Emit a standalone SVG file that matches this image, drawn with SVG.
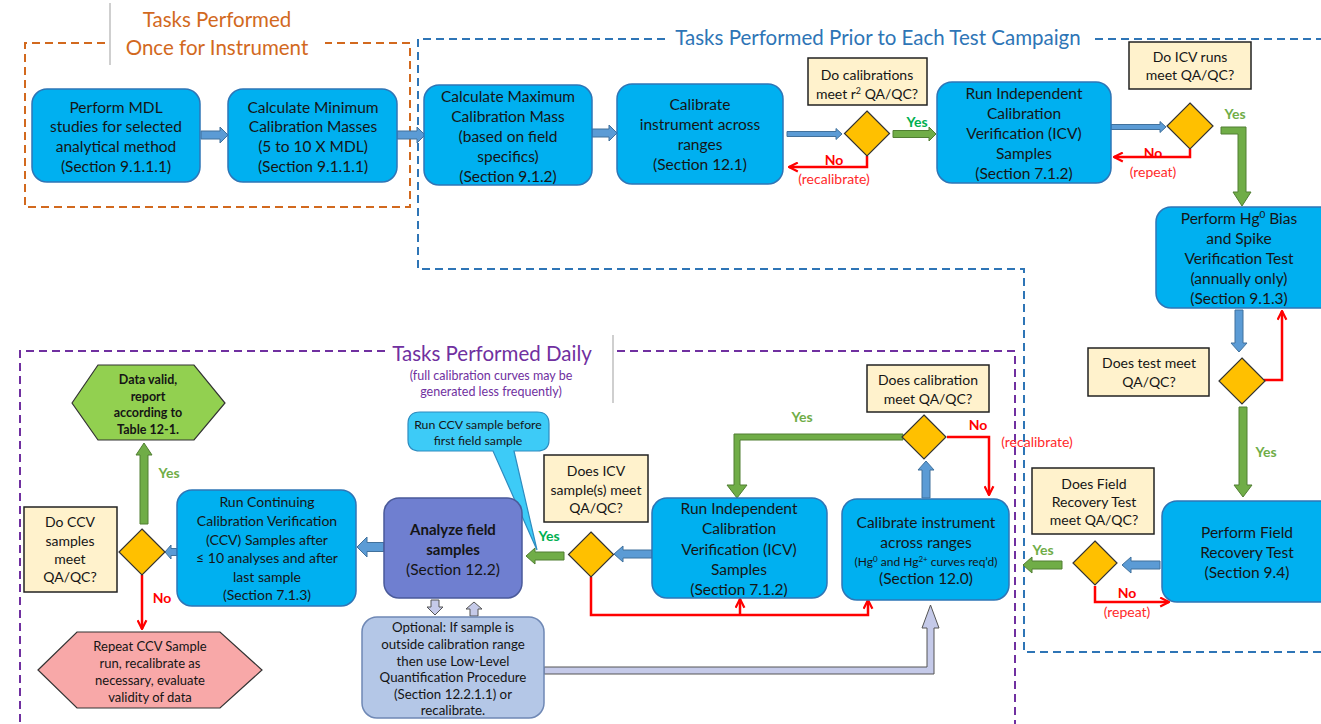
<svg xmlns="http://www.w3.org/2000/svg" width="1321" height="724" viewBox="0 0 1321 724">
<defs>
<style>
text{font-family:Lato,"Open Sans","Liberation Sans",sans-serif;text-anchor:middle;fill:#151515}
.t{font-size:15.5px}
.s{font-size:14px}
.o{font-size:13.3px}
.r{font-size:13px}
.xs{font-size:12.3px}
.title{font-size:20.5px}
.box{fill:#00B0F0;stroke:#2E75B6;stroke-width:1.5}
.lab{fill:#FFF2CC;stroke:#222;stroke-width:1.5}
.dia{fill:#FFC000;stroke:#333;stroke-width:1.2}
.ba{fill:#5B9BD5;stroke:#41719C;stroke-width:1}
.ga{fill:#70AD47;stroke:#507E32;stroke-width:1}
.la{fill:#C5CAE9;stroke:#555;stroke-width:1}
.red{fill:none;stroke:#FF0000;stroke-width:2.5}
.no{font-size:14px;font-weight:bold;fill:#FF0000}
.nr{font-size:14px;fill:#FF2A2A}
.yes{font-size:14px;font-weight:bold;fill:#70AD47}
.yes2{font-size:14px;font-weight:bold;fill:#00B050}
.dash{fill:none;stroke-width:2;stroke-dasharray:8 5}
</style>
<marker id="ra" viewBox="0 0 10 10" refX="9" refY="5" markerWidth="11" markerHeight="11" markerUnits="userSpaceOnUse" orient="auto">
<path d="M1,1 L9,5 L1,9" fill="none" stroke="#FF0000" stroke-width="2"/>
</marker>
</defs>
<rect width="1321" height="724" fill="#fff"/>

<g id="frames">
<path class="dash" stroke="#D2691E" d="M105,43 H25 V207 H410 V43 H325"/>
<path class="dash" stroke="#2E75B6" d="M665,39 H418 V269 H1024 V652 H1321"/>
<path class="dash" stroke="#2E75B6" d="M1095,39 H1321"/>
<path class="dash" stroke="#7030A0" d="M385,351 H20 V724"/>
<path class="dash" stroke="#7030A0" d="M617,351 H1015 V724"/>
<path d="M110,3 V65 M613,335 V403" stroke="#CFCFCF" stroke-width="2" fill="none"/>
<text class="title" x="217" y="27" style="fill:#D2691E">Tasks Performed</text>
<text class="title" x="217" y="55" style="fill:#D2691E">Once for Instrument</text>
<text class="title" x="878" y="45" style="fill:#2E75B6">Tasks Performed Prior to Each Test Campaign</text>
<text class="title" x="492" y="361" style="fill:#7030A0">Tasks Performed Daily</text>
<text x="491" y="380" style="font-size:12.5px;fill:#7030A0">(full calibration curves may be</text>
<text x="491" y="396" style="font-size:12.5px;fill:#7030A0">generated less frequently)</text>
</g>

<g id="connectors">
<polygon class="ba" points="201,131 220,131 220,127 228,135 220,143 220,139 201,139"/>
<polygon class="ba" points="397,131 417,131 417,127 425,135 417,143 417,139 397,139"/>
<polygon class="ba" points="592,129 609,129 609,125 617,133 609,141 609,137 592,137"/>
<polygon class="ba" points="787,131.5 836,131.5 836,128.5 842,134 836,139.5 836,136.5 787,136.5"/>
<polygon class="ga" points="893,130.5 929,130.5 929,127 936,134 929,141 929,137.5 893,137.5"/>
<polygon class="ba" points="1111,124.5 1160,124.5 1160,121.5 1166,127 1160,132.5 1160,129.5 1111,129.5"/>
<polygon class="ga" points="1221,127 1246,127 1246,192 1251,192 1242,206 1233,192 1238,192 1238,134 1221,134"/>
<polygon class="ba" points="1235,310 1243,310 1243,343 1247,343 1239,352 1231,343 1235,343"/>
<polygon class="ga" points="1239,407 1247,407 1247,485 1252,485 1243,497 1234,485 1239,485"/>
<polygon class="ba" points="1160,561 1131,561 1131,557 1122,565 1131,573 1131,569 1160,569"/>
<polygon class="ga" points="1062,561 1032,561 1032,557 1023,565 1032,573 1032,569 1062,569"/>
<polygon class="ba" points="922,498 930,498 930,470 934,470 926,461 918,470 922,470"/>
<polygon class="ga" points="903,434 734,434 734,485 727,485 737,498 747,485 740,485 740,440 903,440"/>
<polygon class="ba" points="652,550 623,550 623,546 614,554 623,562 623,558 652,558"/>
<polygon class="ga" points="564,552 535,552 535,548 526,556 535,564 535,560 564,560"/>
<polygon class="ba" points="384,542.5 367,542.5 367,537 357,547 367,557 367,551.5 384,551.5"/>
<polygon class="ba" points="177,548.5 171,548.5 171,545 165,552 171,559 171,555.5 177,555.5"/>
<polygon class="ga" points="140,524 148,524 148,455 152,455 144,443 136,455 140,455"/>
<polygon class="la" points="431,600 439,600 439,607 443,607 435,615 427,607 431,607"/>
<polygon class="la" points="470,616 478,616 478,609 482,609 474,602 466,609 470,609"/>
<polygon class="la" points="544,667 927,667 927,628 922,628 930.5,605 939,628 934,628 934,674 544,674"/>

<path class="red" marker-end="url(#ra)" d="M867,156 V167 H789"/>
<path class="red" marker-end="url(#ra)" d="M1190,149 V157 H1114"/>
<path class="red" marker-end="url(#ra)" d="M1264,380 H1282 V311"/>
<path class="red" marker-end="url(#ra)" d="M1095,586 V602 H1169"/>
<path class="red" marker-end="url(#ra)" d="M947,437 H989 V495"/>
<path class="red" marker-end="url(#ra)" d="M591,577 V615 H868 V600"/>
<path class="red" marker-end="url(#ra)" d="M740,615 V599"/>
<path class="red" marker-end="url(#ra)" d="M142,575 V629"/>

<text class="yes2" x="917" y="127">Yes</text>
<text class="no" x="834" y="165">No</text>
<text class="nr" x="834" y="184">(recalibrate)</text>
<text class="yes" x="1235" y="119">Yes</text>
<text class="no" x="1153" y="158">No</text>
<text class="nr" x="1153" y="177">(repeat)</text>
<text class="yes" x="1266" y="457">Yes</text>
<text class="yes" x="1043" y="555">Yes</text>
<text class="no" x="1127" y="598">No</text>
<text class="nr" x="1127" y="617">(repeat)</text>
<text class="yes" x="802" y="422">Yes</text>
<text class="no" x="978" y="430">No</text>
<text class="nr" x="1037" y="447">(recalibrate)</text>
<text class="yes2" x="549" y="541">Yes</text>
<text class="yes" x="169" y="478">Yes</text>
<text class="no" x="162" y="603">No</text>
</g>

<g id="n-mdl">
<rect class="box" x="32" y="89" width="168" height="93" rx="15"/>
<text class="t" x="116" y="112.5">Perform MDL</text>
<text class="t" x="116" y="131.5">studies for selected</text>
<text class="t" x="116" y="151.5">analytical method</text>
<text class="t" x="116" y="171.5">(Section 9.1.1.1)</text>
</g>
<g id="n-minmass">
<rect class="box" x="228" y="89" width="169" height="93" rx="15"/>
<text class="t" x="313" y="112.5">Calculate Minimum</text>
<text class="t" x="313" y="131.5">Calibration Masses</text>
<text class="t" x="313" y="151.5">(5 to 10 X MDL)</text>
<text class="t" x="313" y="171.5">(Section 9.1.1.1)</text>
</g>
<g id="n-maxmass">
<rect class="box" x="424" y="85" width="168" height="100" rx="15"/>
<text class="t" x="508" y="101.5">Calculate Maximum</text>
<text class="t" x="508" y="121.5">Calibration Mass</text>
<text class="t" x="508" y="141.5">(based on field</text>
<text class="t" x="508" y="161.5">specifics)</text>
<text class="t" x="508" y="181.5">(Section 9.1.2)</text>
</g>
<g id="n-cal1">
<rect class="box" x="617" y="84" width="166" height="100" rx="15"/>
<text class="t" x="700" y="109.5">Calibrate</text>
<text class="t" x="700" y="129.5">instrument across</text>
<text class="t" x="700" y="149.5">ranges</text>
<text class="t" x="700" y="169.5">(Section 12.1)</text>
</g>
<g id="d-cal1">
<rect class="lab" x="808" y="58" width="119" height="47"/>
<text class="s" x="867" y="79.5">Do calibrations</text>
<text class="s" x="867" y="98.5">meet r<tspan font-size="9" dy="-5">2</tspan><tspan dy="5"> QA/QC?</tspan></text>
<polygon class="dia" points="867,111 889.5,133.5 867,156 844.5,133.5"/>
</g>
<g id="n-icv1">
<rect class="box" x="937" y="82" width="174" height="101" rx="15"/>
<text class="t" x="1024" y="98.5">Run Independent</text>
<text class="t" x="1024" y="118.5">Calibration</text>
<text class="t" x="1024" y="138.5">Verification (ICV)</text>
<text class="t" x="1024" y="158.5">Samples</text>
<text class="t" x="1024" y="178.5">(Section 7.1.2)</text>
</g>
<g id="d-icv1">
<rect class="lab" x="1129" y="42" width="122" height="47"/>
<text class="s" x="1190" y="61.5">Do ICV runs</text>
<text class="s" x="1190" y="79.5">meet QA/QC?</text>
<polygon class="dia" points="1190,103 1213,126 1190,149 1167,126"/>
</g>
<g id="n-bias">
<rect class="box" x="1156" y="207" width="180" height="101" rx="15"/>
<text class="t" x="1239" y="223.5">Perform Hg<tspan font-size="10" dy="-6">0</tspan><tspan dy="6"> Bias</tspan></text>
<text class="t" x="1239" y="243.5">and Spike</text>
<text class="t" x="1239" y="263.5">Verification Test</text>
<text class="t" x="1239" y="283.5">(annually only)</text>
<text class="t" x="1239" y="303.5">(Section 9.1.3)</text>
</g>
<g id="d-test">
<rect class="lab" x="1088" y="348" width="121" height="48"/>
<text class="s" x="1149" y="367.5">Does test meet</text>
<text class="s" x="1149" y="386.5">QA/QC?</text>
<polygon class="dia" points="1242,358 1265,381 1242,404 1219,381"/>
</g>
<g id="n-frt">
<rect class="box" x="1162" y="501" width="175" height="101" rx="15"/>
<text class="t" x="1247" y="537.5">Perform Field</text>
<text class="t" x="1247" y="557.5">Recovery Test</text>
<text class="t" x="1247" y="577.5">(Section 9.4)</text>
</g>
<g id="d-frt">
<rect class="lab" x="1032" y="468" width="122" height="66"/>
<text class="s" x="1094" y="488.5">Does Field</text>
<text class="s" x="1094" y="506.5">Recovery Test</text>
<text class="s" x="1094" y="524.5">meet QA/QC?</text>
<polygon class="dia" points="1095,541 1117,563 1095,585 1073,563"/>
</g>
<g id="n-cal2">
<rect class="box" x="842" y="499" width="167" height="101" rx="15"/>
<text class="t" x="926" y="527.5">Calibrate instrument</text>
<text class="t" x="926" y="547.5">across ranges</text>
<text x="926" y="566" style="font-size:12px">(Hg<tspan font-size="8" dy="-4.5">0</tspan><tspan dy="4.5"> and Hg</tspan><tspan font-size="8" dy="-4.5">2+</tspan><tspan dy="4.5"> curves req’d)</tspan></text>
<text class="t" x="926" y="583.5">(Section 12.0)</text>
</g>
<g id="d-cal2">
<rect class="lab" x="867" y="365" width="122" height="47"/>
<text class="s" x="928" y="384.5">Does calibration</text>
<text class="s" x="928" y="403.5">meet QA/QC?</text>
<polygon class="dia" points="924,415 946,437 924,459 902,437"/>
</g>
<g id="n-icv2">
<rect class="box" x="652" y="498" width="175" height="100" rx="15"/>
<text class="t" x="739" y="513.5">Run Independent</text>
<text class="t" x="739" y="533.5">Calibration</text>
<text class="t" x="739" y="554.5">Verification (ICV)</text>
<text class="t" x="739" y="574.5">Samples</text>
<text class="t" x="739" y="594.5">(Section 7.1.2)</text>
</g>
<g id="d-icv2">
<rect class="lab" x="544" y="455" width="104" height="67"/>
<text class="s" x="596" y="475.5">Does ICV</text>
<text class="s" x="596" y="494.5">sample(s) meet</text>
<text class="s" x="596" y="512.5">QA/QC?</text>
<polygon class="dia" points="591,532 613.5,554.5 591,577 568.5,554.5"/>
</g>
<g id="n-callout">
<path d="M420,412 H537 Q549,412 549,424 V440 Q549,451 537,451 H514 L537,550 L493,451 H420 Q408,451 408,440 V424 Q408,412 420,412 Z" fill="#3DCBF7" stroke="#2E8CC0" stroke-width="1.2"/>
<text class="xs" x="478" y="428.5">Run CCV sample before</text>
<text class="xs" x="478" y="444.5">first field sample</text>
</g>
<g id="n-analyze">
<rect x="384" y="498" width="138" height="100" rx="15" fill="#6F7FD0" stroke="#4A5A9A" stroke-width="1.5"/>
<text x="453" y="534.5" style="font-size:15px;font-weight:bold">Analyze field</text>
<text x="453" y="554.5" style="font-size:15px;font-weight:bold">samples</text>
<text class="t" x="453" y="574.5">(Section 12.2)</text>
</g>
<g id="n-optional">
<rect x="362" y="617" width="182" height="101" rx="15" fill="#B4C7E7" stroke="#6F88B5" stroke-width="1.5"/>
<text class="o" x="453" y="632">Optional: If sample is</text>
<text class="o" x="453" y="648.5">outside calibration range</text>
<text class="o" x="453" y="665.5">then use Low-Level</text>
<text class="o" x="453" y="682">Quantification  Procedure</text>
<text class="o" x="453" y="699">(Section 12.2.1.1) or</text>
<text class="o" x="453" y="715">recalibrate.</text>
</g>
<g id="n-ccv">
<rect class="box" x="177" y="490" width="179" height="116" rx="15"/>
<text class="s" x="267" y="507">Run Continuing</text>
<text class="s" x="267" y="526">Calibration Verification</text>
<text class="s" x="267" y="544.5">(CCV)  Samples after</text>
<text class="s" x="267" y="563">≤ 10 analyses and after</text>
<text class="s" x="267" y="581.5">last sample</text>
<text class="s" x="267" y="600">(Section 7.1.3)</text>
</g>
<g id="d-ccv">
<rect class="lab" x="24" y="507" width="93" height="85"/>
<text class="s" x="70" y="527">Do  CCV</text>
<text class="s" x="70" y="546">samples</text>
<text class="s" x="70" y="564">meet</text>
<text class="s" x="70" y="582">QA/QC?</text>
<polygon class="dia" points="142,529 165,552 142,575 119,552"/>
</g>
<g id="n-valid">
<polygon points="72,403 98,365 194,365 225,403 194,440 98,440" fill="#92D050" stroke="#333" stroke-width="1.2"/>
<text x="148" y="383.5" style="font-size:12.5px;font-weight:bold">Data valid,</text>
<text x="148" y="400.5" style="font-size:12.5px;font-weight:bold">report</text>
<text x="148" y="416.5" style="font-size:12.5px;font-weight:bold">according to</text>
<text x="148" y="433.5" style="font-size:12.5px;font-weight:bold">Table 12-1.</text>
</g>
<g id="n-repeat">
<polygon points="38,670 77,632 220,632 262,670 220,708 77,708" fill="#F8A8A8" stroke="#333" stroke-width="1.2"/>
<text class="r" x="150" y="651">Repeat  CCV Sample</text>
<text class="r" x="150" y="668">run, recalibrate as</text>
<text class="r" x="150" y="684.5">necessary, evaluate</text>
<text class="r" x="150" y="701.5">validity of data</text>
</g>
</svg>
